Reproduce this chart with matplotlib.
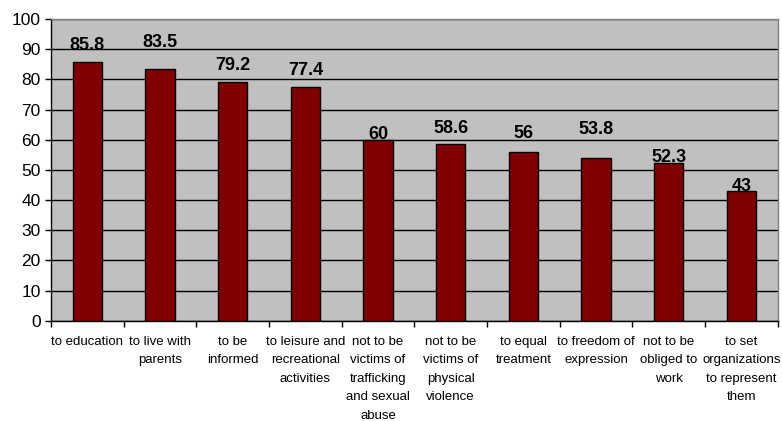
import matplotlib
matplotlib.use("Agg")
import matplotlib.pyplot as plt
import numpy as np

plt.rcParams['font.family'] = ['Liberation Sans', 'DejaVu Sans']

categories = [
    "to education",
    "to live with\nparents",
    "to be\ninformed",
    "to leisure and\nrecreational\nactivities",
    "not to be\nvictims of\ntrafficking\nand sexual\nabuse",
    "not to be\nvictims of\nphysical\nviolence",
    "to equal\ntreatment",
    "to freedom of\nexpression",
    "not to be\nobliged to\nwork",
    "to set\norganizations\nto represent\nthem",
]
values = [85.8, 83.5, 79.2, 77.4, 60, 58.6, 56, 53.8, 52.3, 43]
value_labels = ["85.8", "83.5", "79.2", "77.4", "60", "58.6", "56", "53.8", "52.3", "43"]
y_ticks = [0, 10, 20, 30, 40, 50, 60, 70, 80, 90, 100]

# label offsets above bar tops (points), mimicking the reference placement
label_offsets = [12, 19, 12, 12, 4, 11, 13, 21, 4, 3.5]

fig = plt.figure(figsize=(7.82, 4.21), dpi=100)
ax = fig.add_axes([51/782, 1-320.7/421, (777.7-51)/782, (320.7-19)/421])
ax.set_facecolor('#C0C0C0')

x = np.arange(len(values))
ax.bar(x, values, width=0.4, color='#800000', edgecolor='black', linewidth=1, zorder=3)

for xi, v, lab, off in zip(x, values, value_labels, label_offsets):
    ax.annotate(lab, (xi, v), xytext=(0, off), textcoords='offset points',
                ha='center', va='center', fontsize=13, fontweight='bold', zorder=4)

ax.set_xlim(-0.5, len(values) - 0.5)
ax.set_ylim(0, 100)
ax.set_yticks(y_ticks)
ax.set_yticklabels([str(t) for t in y_ticks], fontsize=12.5)
ax.yaxis.grid(True, color='black', linewidth=1, zorder=1)
ax.set_axisbelow(True)

ax.set_xticks(x)
ax.set_xticklabels(categories, fontsize=9.5, linespacing=1.72, va='top')
ax.set_xticks(np.arange(len(values) + 1) - 0.5, minor=True)
ax.tick_params(axis='x', which='major', length=0, pad=11)
ax.tick_params(axis='x', which='minor', length=4, width=1, direction='out', color='black')
ax.tick_params(axis='y', length=4.5, width=1, direction='out', pad=3)

for side in ['top', 'right']:
    ax.spines[side].set_color('#808080')
    ax.spines[side].set_linewidth(1)
for side in ['left', 'bottom']:
    ax.spines[side].set_color('black')
    ax.spines[side].set_linewidth(1)

fig.savefig('out.png', dpi=100)
